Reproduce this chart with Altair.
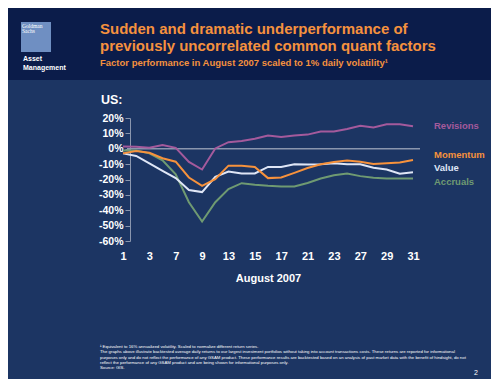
import altair as alt
import pandas as pd

days = [1, 2, 3, 6, 7, 8, 9, 10, 13, 14, 15, 16, 17, 20, 21, 22, 23, 24, 27, 28, 29, 30, 31]
label_days = [1, 3, 7, 9, 13, 15, 17, 21, 23, 27, 29, 31]

series_names = ["Accruals", "Value", "Momentum", "Revisions"]
revisions = [1.5, 1.3, 0.6, 2.4, 0.6, -8.6, -13.5, 0.2, 4.3, 5.0, 6.5, 8.6, 7.7, 8.6, 9.2, 11.2, 11.2, 12.9, 15.0, 13.8, 15.9, 15.9, 14.6]
momentum = [-3.0, -1.5, -2.6, -6.2, -8.4, -18.7, -24.1, -19.8, -11.0, -11.0, -11.8, -19.1, -18.7, -15.7, -12.5, -10.1, -8.6, -7.7, -8.4, -9.9, -9.5, -9.0, -7.3]
value = [-3.0, -4.7, -9.5, -14.4, -19.1, -26.9, -28.2, -18.3, -14.8, -16.1, -16.1, -11.8, -11.8, -10.1, -10.2, -10.1, -9.5, -10.1, -10.1, -12.3, -13.5, -16.3, -15.3]
accruals = [-1.1, -1.1, -3.0, -7.5, -16.6, -34.8, -47.3, -34.8, -26.2, -22.4, -23.4, -24.1, -24.5, -24.5, -22.3, -19.4, -17.2, -16.1, -17.8, -18.9, -19.4, -19.4, -19.4]
series_colors = ["#6f9a72", "#dfe6f6", "#f7923c", "#a45a9c"]

y_ticks = [20, 10, 0, -10, -20, -30, -40, -50, -60]

title1 = "Sudden and dramatic underperformance of"
title2 = "previously uncorrelated common quant factors"
subtitle = "Factor performance in August 2007 scaled to 1% daily volatility\u00b9"
footnotes = [
    "\u00b9 Equivalent to 16% annualized volatility.  Scaled to normalize different return series.",
    "The graphs above illustrate backtested average daily returns to our largest investment portfolios without taking into account transactions costs. These returns are reported for informational",
    "purposes only and do not reflect the performance of any GSAM product. These performance results are backtested based on an analysis of past market data with the benefit of hindsight, do not",
    "reflect the performance of any GSAM product and are being shown for informational purposes only.",
    "Source: GIS.",
]

BG = "#1c3563"
HEADER = "#0b1c4a"
ORANGE = "#f5913e"
FONT = "Liberation Sans"

rows = []
for name, vals in zip(series_names, [accruals, value, momentum, revisions]):
    for d, v in zip(days, vals):
        rows.append({"day": d, "series": name, "value": v})
df = pd.DataFrame(rows)

one = pd.DataFrame({"k": [0]})


def text(s, x, y, size, color="white", weight="bold", align="left", baseline="alphabetic", font=FONT):
    return alt.Chart(pd.DataFrame({"t": [s]})).mark_text(
        align=align, baseline=baseline, fontSize=size, fontWeight=weight,
        color=color, font=font
    ).encode(text="t:N", x=alt.value(x), y=alt.value(y))


# plot origin in image coords ~ (123, 118)
OX, OY = 123, 118

y_scale = alt.Scale(domain=[-60, 20], nice=False, zero=False)
y_axis = alt.Axis(values=y_ticks, labelExpr="datum.value + '%'", offset=-7,
                  grid=False, domainColor="#8a96ae", tickColor="#8a96ae",
                  tickSize=5, labelFont=FONT, labelFontSize=10.5,
                  labelFontWeight="bold", labelColor="white", labelPadding=2,
                  labelOverlap=False, labelBound=False, tickCount=9, title=None)

header = alt.Chart(one).mark_rect(color=HEADER).encode(
    x=alt.value(-115), x2=alt.value(368), y=alt.value(-110), y2=alt.value(80 - 8 - 110)
)
logo = alt.Chart(one).mark_rect(color="#6f8fc2").encode(
    x=alt.value(21 - OX), x2=alt.value(51 - OX), y=alt.value(22 - OY), y2=alt.value(52 - OY)
)

lines = alt.Chart(df).mark_line(strokeWidth=2).encode(
    x=alt.X("day:O", sort=days, scale=alt.Scale(type="point", padding=0),
            axis=alt.Axis(values=label_days, labelAngle=0, domain=False, ticks=False,
                          labelFont=FONT, labelFontSize=11, labelFontWeight="bold",
                          labelColor="white", labelPadding=9, title="August 2007",
                          titleFont=FONT, titleFontSize=11, titleFontWeight="bold",
                          titleColor="white", titlePadding=11)),
    y=alt.Y("value:Q", scale=y_scale, axis=y_axis),
    color=alt.Color("series:N", scale=alt.Scale(domain=series_names, range=series_colors), legend=None),
    order=alt.Order("series:N"),
)

zero = alt.Chart(one).mark_rule(color="#8a96ae", strokeWidth=1.5).encode(
    y=alt.YDatum(0, type="quantitative", scale=y_scale, axis=y_axis),
    x=alt.value(4), x2=alt.value(297)
)

texts = [
    text(title1, 100 - OX, 34 - OY, 15, color=ORANGE),
    text(title2, 100 - OX, 51 - OY, 15, color=ORANGE),
    text(subtitle, 100 - OX, 66 - OY, 9.5, color=ORANGE),
    text("Goldman", 22 - OX, 28 - OY, 5.5, weight="normal", font="Liberation Serif"),
    text("Sachs", 22 - OX, 33 - OY, 5.5, weight="normal", font="Liberation Serif"),
    text("Asset", 23 - OX, 61 - OY, 7),
    text("Management", 23 - OX, 70 - OY, 7),
    text("US:", 101 - OX, 104 - OY, 12.5),
    text("Revisions", 434 - OX, 126 - OY, 9.5, color=series_colors[3], baseline="middle"),
    text("Momentum", 434 - OX, 155 - OY, 9.5, color=series_colors[2], baseline="middle"),
    text("Value", 434 - OX, 168 - OY, 9.5, color=series_colors[1], baseline="middle"),
    text("Accruals", 434 - OX, 182 - OY, 9.5, color=series_colors[0], baseline="middle"),
    text("2", 474 - OX, 375 - OY, 7, weight="normal"),
]
for i, line in enumerate(footnotes):
    texts.append(text(line, 100 - OX, 348 - OY + i * 5.3, 4.3, weight="normal"))

chart = alt.layer(header, logo, zero, lines, *texts).properties(
    width=290, height=123,
    padding={"left": 115, "top": 110, "right": 78, "bottom": 138},
    autosize=alt.AutoSizeParams(type="none"),
    background=BG,
).configure_view(stroke=None)

chart.save("out.html", embed_options={"renderer": "svg", "actions": False})
